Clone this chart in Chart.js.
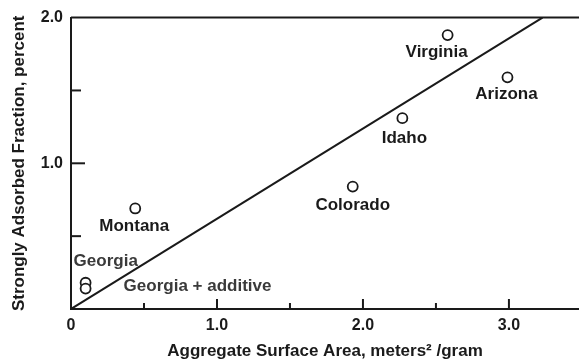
<!DOCTYPE html>
<html>
<head>
<meta charset="utf-8">
<script src="https://cdn.jsdelivr.net/npm/chart.js@4.4.1/dist/chart.umd.min.js"></script>
<style>
  html, body { margin: 0; padding: 0; background: #fff; }
</style>
</head>
<body>
<canvas id="chart" width="579" height="362"></canvas>
<script>
// data
const sites = ['Virginia', 'Arizona', 'Idaho', 'Colorado', 'Montana', 'Georgia', 'Georgia + additive'];
const surfaceArea = [2.58, 2.99, 2.27, 1.93, 0.44, 0.10, 0.10];
const adsorbed = [1.88, 1.59, 1.31, 0.84, 0.69, 0.18, 0.14];
const fitX = [0, 3.23];
const fitY = [0, 2.0];
const xTicks = [0, 0.5, 1, 1.5, 2, 2.5, 3];
const xTickLabels = ['0', '', '1.0', '', '2.0', '', '3.0'];
const yTicks = [0.5, 1, 1.5, 2];
const yTickLabels = ['', '1.0', '', '2.0'];

const ink = '#1a1a1a';
Chart.defaults.font.family = '"Liberation Sans", Arial, sans-serif';
Chart.defaults.color = ink;

// where each label sits relative to its point (px)
const labelPlace = {
    'Virginia': [-11, 17, 'center'],
    'Arizona': [-1, 17, 'center'],
    'Idaho': [2, 20, 'center'],
    'Colorado': [0, 19, 'center'],
    'Montana': [-1, 18, 'center'],
    'Georgia': [-12, -21, 'left'],
    'Georgia + additive': [38, -2, 'left']
};

const decorPlugin = {
    id: 'decor',
    afterDatasetsDraw(chart) {
        const ctx = chart.ctx;
        const xs = chart.scales.x;
        const ys = chart.scales.y;
        const area = chart.chartArea;
        ctx.save();
        ctx.strokeStyle = ink;
        ctx.lineWidth = 2;
        // top frame line at 2.0
        const yTop = ys.getPixelForValue(2);
        ctx.beginPath();
        ctx.moveTo(area.left, yTop);
        ctx.lineTo(area.right, yTop);
        ctx.stroke();
        // inward ticks on x axis
        xTicks.forEach((v, i) => {
            if (v === 0) return;
            const px = xs.getPixelForValue(v);
            const len = xTickLabels[i] ? 10 : 6;
            ctx.beginPath();
            ctx.moveTo(px, area.bottom);
            ctx.lineTo(px, area.bottom - len);
            ctx.stroke();
        });
        // inward ticks on y axis
        yTicks.forEach((v, i) => {
            if (v === 2) return;
            const py = ys.getPixelForValue(v);
            const len = yTickLabels[i] ? 14 : 10;
            ctx.beginPath();
            ctx.moveTo(area.left, py);
            ctx.lineTo(area.left + len, py);
            ctx.stroke();
        });
        // point labels
        ctx.font = 'bold 17px "Liberation Sans", Arial, sans-serif';
        ctx.textBaseline = 'middle';
        sites.forEach((name, i) => {
            const place = labelPlace[name];
            const px = xs.getPixelForValue(surfaceArea[i]);
            const py = ys.getPixelForValue(adsorbed[i]);
            ctx.fillStyle = name.startsWith('Georgia') ? '#3a3a3a' : ink;
            ctx.textAlign = place[2];
            ctx.fillText(name, px + place[0], py + place[1]);
        });
        ctx.restore();
    }
};

new Chart(document.getElementById('chart'), {
    type: 'scatter',
    data: {
        datasets: [
            {
                label: 'Sites',
                data: sites.map((s, i) => ({ x: surfaceArea[i], y: adsorbed[i] })),
                pointRadius: 5,
                pointBorderWidth: 1.8,
                pointBorderColor: ink,
                pointBackgroundColor: '#fff'
            },
            {
                label: 'Fit',
                type: 'line',
                data: fitX.map((x, i) => ({ x: x, y: fitY[i] })),
                borderColor: ink,
                borderWidth: 2,
                pointRadius: 0,
                fill: false
            }
        ]
    },
    options: {
        responsive: false,
        animation: false,
        devicePixelRatio: 1,
        layout: { autoPadding: false, padding: { top: 16, right: 0, left: 0, bottom: 0 } },
        plugins: { legend: { display: false }, tooltip: { enabled: false } },
        scales: {
            x: {
                type: 'linear',
                min: 0,
                max: 3.48,
                afterBuildTicks: s => { s.ticks = xTicks.map(v => ({ value: v })); },
                afterFit: s => {
                    s.height = 53;
                    // plot runs right to the edge of the picture
                    s.paddingRight = 0;
                    s.paddingLeft = 0;
                },
                grid: { display: false, drawTicks: false },
                border: { display: true, color: ink, width: 2 },
                ticks: {
                    padding: 7,
                    autoSkip: false,
                    maxRotation: 0,
                    font: { size: 16, weight: 'bold' },
                    callback: (v, i) => xTickLabels[i]
                },
                title: {
                    display: true,
                    text: 'Aggregate Surface Area, meters² /gram',
                    font: { size: 17, weight: 'bold' },
                    padding: { top: 8, bottom: 0 }
                }
            },
            y: {
                type: 'linear',
                min: 0,
                max: 2,
                afterBuildTicks: s => { s.ticks = yTicks.map(v => ({ value: v })); },
                afterFit: s => { s.width = 71; },
                grid: { display: false, drawTicks: false },
                border: { display: true, color: ink, width: 2 },
                ticks: {
                    padding: 8,
                    autoSkip: false,
                    font: { size: 16, weight: 'bold' },
                    callback: (v, i) => yTickLabels[i]
                },
                title: {
                    display: true,
                    text: 'Strongly Adsorbed Fraction, percent',
                    font: { size: 17, weight: 'bold' },
                    padding: { top: 9, bottom: 4 }
                }
            }
        }
    },
    plugins: [decorPlugin]
});
</script>
</body>
</html>
